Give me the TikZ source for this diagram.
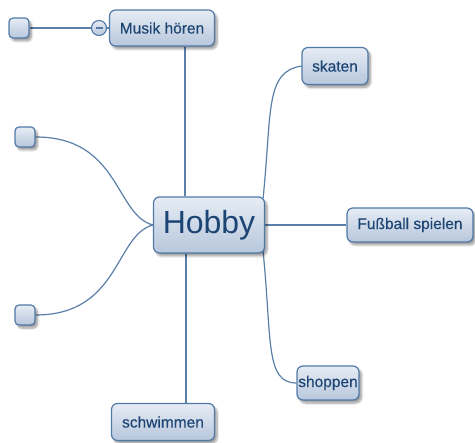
\documentclass[tikz,border=0pt]{standalone}
\usepackage{fontspec}
\setmainfont{Liberation Sans}
\newfontfamily\labfont[FakeBold=0.35]{Liberation Sans}
\usetikzlibrary{shadows,shadows.blur,backgrounds}
\definecolor{bord}{HTML}{5079A8}
\definecolor{linec}{HTML}{5A7FA8}
\definecolor{txt}{HTML}{1C4574}
\definecolor{topc}{HTML}{E6ECF4}
\definecolor{botc}{HTML}{B7C7DC}
\tikzset{
  box/.style={draw=bord, line width=1.2pt, rounded corners=6pt, top color=topc, bottom color=botc,
    text=txt, inner sep=0pt, font=\labfont\fontsize{15.5}{18}\selectfont,
    blur shadow={shadow blur steps=8, shadow blur extra rounding=2pt, shadow xshift=2.5pt, shadow yshift=-3pt, shadow opacity=40}},
  sq/.style={box, minimum width=20pt, minimum height=20pt, rounded corners=4pt},
  conn/.style={draw=linec, line width=1.2pt},
}
\begin{document}
\begin{tikzpicture}[x=1pt,y=-1pt]
\useasboundingbox (0,0) rectangle (475,443);
\node[box, minimum width=111pt, minimum height=56pt, font=\rmfamily\fontsize{32}{36}\selectfont] (hobby) at (209,225) {Hobby};
\node[box, minimum width=105pt, minimum height=36pt] (musik) at (162,28) {Musik hören};
\node[box, minimum width=66pt, minimum height=37pt] (skaten) at (335,66) {skaten};
\node[box, minimum width=126pt, minimum height=34pt] (fussball) at (410,225) {Fußball spielen};
\node[box, minimum width=62pt, minimum height=34pt] (shoppen) at (328,383) {shoppen};
\node[box, minimum width=103pt, minimum height=37pt] (schwimmen) at (163,422) {schwimmen};
\node[sq] (s1) at (19,28) {};
\node[sq] (s2) at (25,137) {};
\node[sq] (s3) at (25,315) {};
\node[circle, draw=bord, line width=1.1pt, top color=topc, bottom color=botc, minimum size=15pt, inner sep=0pt] (col) at (99,28) {};
\draw[line width=1.1pt, bord] ([xshift=-3.5pt]col.center) -- ([xshift=3.5pt]col.center);
\begin{scope}[on background layer]
\draw[conn] (s1.east) -- (col.west);
\draw[conn] (col.east) -- (musik.west);
\draw[conn] (musik.south -| 185,0) -- (hobby.north -| 185,0);
\draw[conn] (hobby.south -| 186,0) -- (schwimmen.north -| 186,0);
\draw[conn] (hobby.east) -- (fussball.west);
\draw[conn] ([xshift=-2pt,yshift=-2pt]hobby.north east) .. controls (272,110) and (265,72) .. (skaten.west);
\draw[conn] ([xshift=-2pt,yshift=2pt]hobby.south east) .. controls (272,340) and (265,383) .. (shoppen.west);
\draw[conn] (hobby.west) .. controls (115,215) and (120,137) .. (s2.east);
\draw[conn] (hobby.west) .. controls (115,235) and (120,315) .. (s3.east);
\end{scope}
\end{tikzpicture}
\end{document}
